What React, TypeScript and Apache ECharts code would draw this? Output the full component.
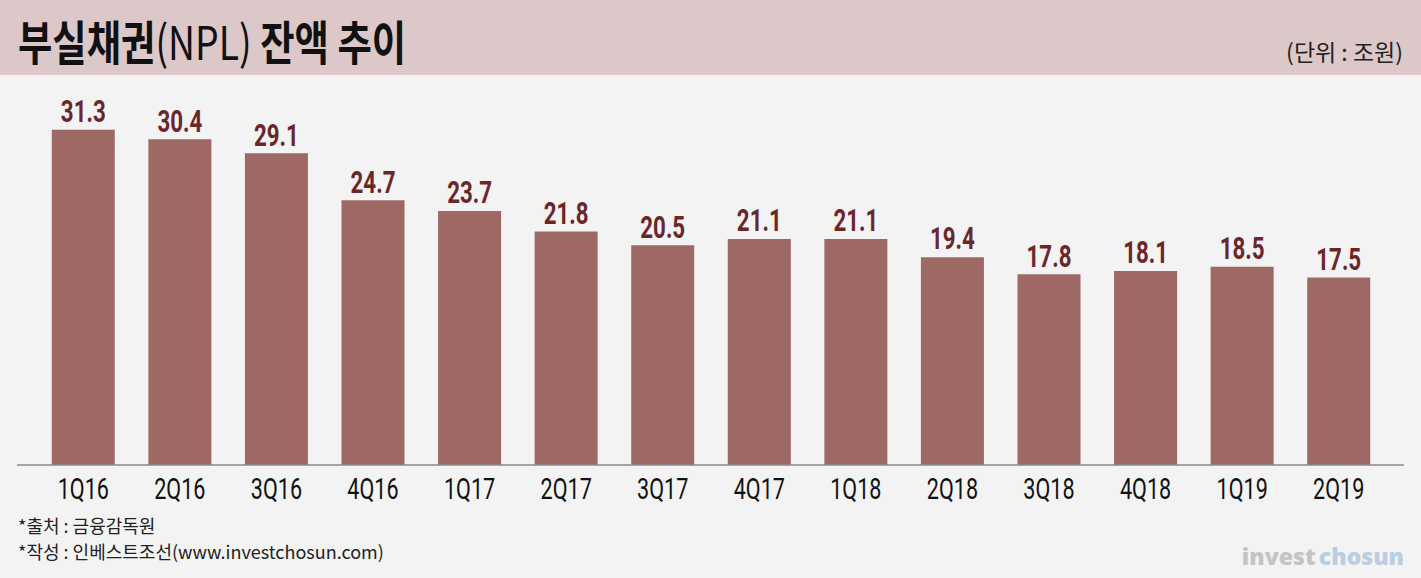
import React, { useEffect, useRef } from "react";
import * as echarts from "echarts";

const categories = ["1Q16", "2Q16", "3Q16", "4Q16", "1Q17", "2Q17", "3Q17", "4Q17", "1Q18", "2Q18", "3Q18", "4Q18", "1Q19", "2Q19"];
const values = [31.3, 30.4, 29.1, 24.7, 23.7, 21.8, 20.5, 21.1, 21.1, 19.4, 17.8, 18.1, 18.5, 17.5];

const titleText = "{b|부실채권}{n|(NPL)}{b| 잔액 추이}";
const unitText = "(단위 : 조원)";
const sourceText = "*출처 : 금융감독원";
const authorText = "*작성 : 인베스트조선(www.investchosun.com)";

export default function App() {
  const ref = useRef<HTMLDivElement>(null);
  useEffect(() => {
    document.body.style.margin = "0";
    const chart = echarts.init(ref.current!, null, { renderer: "svg" });
    chart.setOption({
      animation: false,
      backgroundColor: "#f3f3f3",
      grid: { left: 35, right: 34, top: 90, bottom: 113 },
      xAxis: {
        type: "category",
        data: categories,
        axisLine: { show: false },
        axisTick: { show: false },
        axisLabel: { show: false },
      },
      yAxis: { type: "value", min: 0, max: 35, show: false },
      series: [
        {
          type: "bar",
          data: values,
          barWidth: 63,
          itemStyle: { color: "#9e6964" },
          z: 3,
        },
        {
          type: "custom",
          data: values.map((v, i) => [i, v]),
          z: 6,
          silent: true,
          renderItem: (params: any, api: any) => {
            const i = api.value(0);
            const v = api.value(1);
            const top = api.coord([i, v]);
            const base = api.coord([i, 0]);
            return {
              type: "group",
              children: [
                {
                  type: "text",
                  x: top[0],
                  y: top[1] - 18,
                  scaleX: 0.72,
                  style: {
                    text: v.toFixed(1),
                    align: "center",
                    verticalAlign: "middle",
                    fontSize: 31,
                    fontWeight: "bold",
                    fontFamily: "Roboto",
                    fill: "#6b2629",
                  },
                },
                {
                  type: "text",
                  x: base[0],
                  y: base[1] + 24,
                  scaleX: 0.72,
                  style: {
                    text: categories[i],
                    align: "center",
                    verticalAlign: "middle",
                    fontSize: 30,
                    fontFamily: "Roboto",
                    fill: "#111",
                  },
                },
              ],
            };
          },
        },
      ],
      graphic: [
        { type: "rect", shape: { x: 0, y: 0, width: 1421, height: 75 }, style: { fill: "#dcc8c8" }, z: 0 },
        {
          type: "text",
          x: 18,
          y: 40,
          scaleX: 0.795,
          z: 5,
          style: {
            text: titleText,
            verticalAlign: "middle",
            align: "left",
            rich: {
              b: { fontSize: 47, fontWeight: "bold", fontFamily: "Noto Sans CJK KR", fill: "#111", color: "#111" },
              n: { fontSize: 47, fontWeight: "normal", fontFamily: "Noto Sans CJK KR", fill: "#111", color: "#111" },
            },
          },
        },
        {
          type: "text",
          x: 1403,
          y: 51,
          z: 5,
          style: {
            text: unitText,
            align: "right",
            verticalAlign: "middle",
            fontSize: 23,
            fontFamily: "Noto Sans CJK KR",
            fill: "#222",
          },
        },
        {
          type: "line",
          shape: { x1: 17, y1: 465, x2: 1404, y2: 465 },
          style: { stroke: "#8a8a8a", lineWidth: 1.5 },
          z: 4,
        },
        {
          type: "text",
          x: 18,
          y: 525,
          z: 5,
          style: { text: sourceText, verticalAlign: "middle", fontSize: 18, lineHeight: 18, fontFamily: "Noto Sans CJK KR", fill: "#222" },
        },
        {
          type: "text",
          x: 18,
          y: 551,
          z: 5,
          style: { text: authorText, verticalAlign: "middle", fontSize: 18, lineHeight: 18, fontFamily: "Noto Sans CJK KR", fill: "#222" },
        },
        {
          type: "text",
          x: 1404,
          y: 556,
          z: 5,
          style: {
            text: "{g|invest} {c|chosun}",
            align: "right",
            verticalAlign: "middle",
            rich: {
              g: { fontSize: 23, fontWeight: 800, fontFamily: "Open Sans", fill: "#c4c4c4", color: "#c4c4c4" },
              c: { fontSize: 23, fontWeight: 800, fontFamily: "Open Sans", fill: "#b9cee0", color: "#b9cee0" },
            },
          },
        },
      ],
    });
    return () => chart.dispose();
  }, []);
  return <div ref={ref} style={{ width: 1421, height: 578 }} />;
}
